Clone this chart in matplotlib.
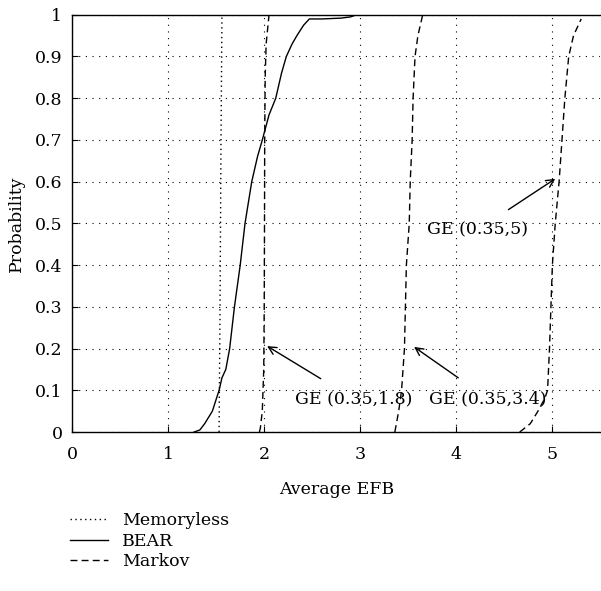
import matplotlib
matplotlib.use("Agg")
import matplotlib.pyplot as plt
from matplotlib.lines import Line2D

plt.rcParams['font.family'] = ['DejaVu Serif']

# Data
mem_x = [1.53, 1.54, 1.55, 1.56]
mem_y = [0.0, 0.3, 0.7, 1.0]

bear_x = [1.27, 1.33, 1.38, 1.46, 1.53, 1.56, 1.60, 1.64, 1.69, 1.75, 1.80, 1.87,
          1.93, 1.98, 2.05, 2.12, 2.18, 2.23, 2.29, 2.34, 2.41, 2.47, 2.6, 2.8, 2.9, 2.96, 3.0]
bear_y = [0.0, 0.005, 0.02, 0.05, 0.10, 0.13, 0.15, 0.20, 0.30, 0.40, 0.50, 0.60,
          0.66, 0.70, 0.76, 0.80, 0.86, 0.90, 0.93, 0.95, 0.975, 0.99, 0.99, 0.992, 0.995, 1.0, 1.0]

mk18_x = [1.95, 1.96, 1.98, 1.995, 2.0, 2.003, 2.005, 2.01, 2.02, 2.05]
mk18_y = [0.0, 0.01, 0.05, 0.15, 0.3, 0.5, 0.7, 0.85, 0.93, 1.0]

mk34_x = [3.36, 3.40, 3.43, 3.46, 3.48, 3.51, 3.52, 3.54, 3.55, 3.57, 3.60, 3.65]
mk34_y = [0.0, 0.05, 0.10, 0.20, 0.40, 0.50, 0.60, 0.70, 0.80, 0.90, 0.95, 1.0]

mk5_x = [4.66, 4.77, 4.85, 4.92, 4.95, 4.97, 5.0, 5.03, 5.07, 5.10, 5.13, 5.17, 5.22, 5.30]
mk5_y = [0.0, 0.02, 0.05, 0.08, 0.10, 0.20, 0.40, 0.50, 0.60, 0.70, 0.80, 0.90, 0.95, 0.99]

y_ticks = [0, 0.1, 0.2, 0.3, 0.4, 0.5, 0.6, 0.7, 0.8, 0.9, 1]
y_labels = ["0", "0.1", "0.2", "0.3", "0.4", "0.5", "0.6", "0.7", "0.8", "0.9", "1"]
x_ticks = [0, 1, 2, 3, 4, 5]

annotations = [
    ("GE (0.35,1.8)", (2.03, 0.206), (2.93, 0.08)),
    ("GE (0.35,3.4)", (3.56, 0.204), (4.33, 0.08)),
    ("GE (0.35,5)", (5.03, 0.607), (4.22, 0.484)),
]

fig = plt.figure(figsize=(6.01, 5.91), dpi=100)
ax = fig.add_axes([0.12, 0.269, 0.879, 0.706])

FS = 12.5
dash = (0, (5, 3))
ax.plot(mem_x, mem_y, color='black', lw=1.0, linestyle=(0, (1, 2.5)))
ax.plot(bear_x, bear_y, color='black', lw=1.0)
for xs, ys in [(mk18_x, mk18_y), (mk34_x, mk34_y), (mk5_x, mk5_y)]:
    ax.plot(xs, ys, color='black', lw=1.0, linestyle=dash)

ax.set_xlim(0, 5.5)
ax.set_ylim(0, 1)
ax.set_xticks(x_ticks)
ax.set_yticks(y_ticks)
ax.set_yticklabels(y_labels)
ax.grid(True, color='black', linestyle=(0, (1, 5)), linewidth=0.8)
ax.tick_params(direction='in', length=4, labelsize=FS, width=0.8)
ax.tick_params(axis='x', pad=10)
ax.tick_params(axis='y', pad=7)
ax.spines['right'].set_visible(False)
for s in ['left', 'bottom', 'top']:
    ax.spines[s].set_linewidth(1.0)
ax.set_xlabel("Average EFB", fontsize=FS, labelpad=13)
ax.set_ylabel("Probability", fontsize=FS, labelpad=7)

for text, xy, xytext in annotations:
    ax.annotate(text, xy=xy, xytext=xytext, fontsize=FS, ha='center', va='center',
                arrowprops=dict(arrowstyle='->', color='black', lw=1.0,
                                shrinkA=12, shrinkB=0, mutation_scale=14))

handles = [
    Line2D([], [], color='black', lw=1.0, linestyle=(0, (1, 2.5))),
    Line2D([], [], color='black', lw=1.0),
    Line2D([], [], color='black', lw=1.0, linestyle=dash),
]
fig.legend(handles, ["Memoryless", "BEAR", "Markov"], loc='upper left',
           bbox_to_anchor=(0.105, 0.145), frameon=False, fontsize=FS,
           handlelength=2.2, labelspacing=0.2, borderaxespad=0, handletextpad=0.8)

fig.savefig("out.png", dpi=100)
